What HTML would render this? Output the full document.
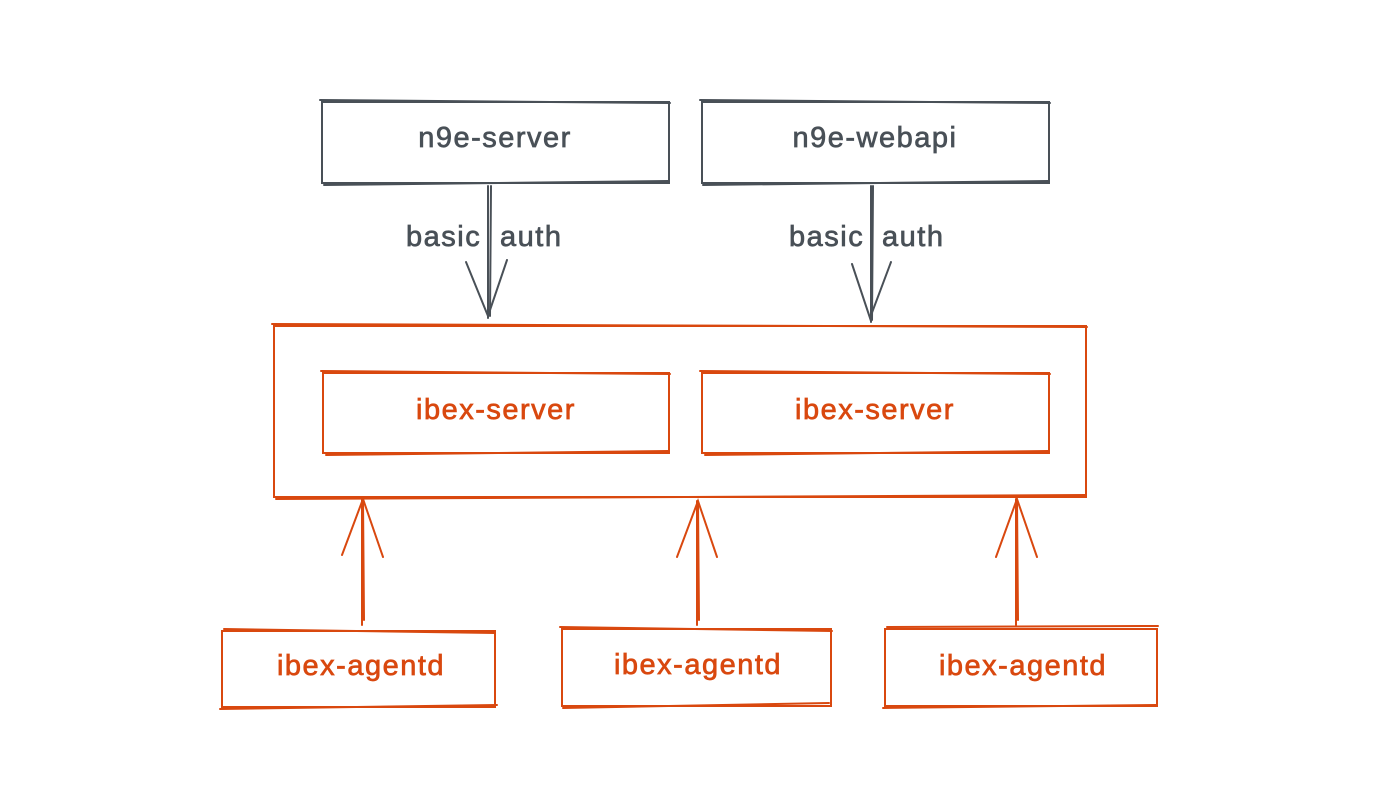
<!DOCTYPE html>
<html><head><meta charset="utf-8"><style>
html,body{margin:0;padding:0;background:#fff;width:1388px;height:804px;overflow:hidden}
svg{display:block}
text{font-family:"Liberation Sans",sans-serif;font-size:29px;letter-spacing:1.5px;dominant-baseline:central;stroke-width:0.7}
.c{text-anchor:middle}
</style></head><body>
<svg width="1388" height="804" viewBox="0 0 1388 804">
<g fill="none" stroke-width="2" stroke-linecap="round">
<g stroke="#495057">
<rect x="322" y="102" width="347" height="81"/>
<path d="M320 100 L670 103 M324 185 L668 181"/>
<rect x="702" y="102" width="347" height="81"/>
<path d="M700 100 L1050 103 M703 185 L1048 181"/>
<path d="M488 186 L488 318 M491 186 L490 316"/>
<path d="M466 262 L488 316 L507 260"/>
<path d="M871 186 L871 322 M873 186 L872 320"/>
<path d="M852 264 L870 318 L891 262"/>
</g>
<g stroke="#d9480f">
<rect x="274" y="326" width="812" height="171"/>
<path d="M272 324 L1087 327 M276 499 L1085 495"/>
<rect x="323" y="373" width="346" height="80"/>
<path d="M321 371 L670 374 M326 455 L668 451"/>
<rect x="702" y="373" width="347" height="80"/>
<path d="M700 371 L1050 374 M705 455 L1048 451"/>
<rect x="222" y="631" width="273" height="76"/>
<path d="M224 629 L495 633 M220 709 L497 705"/>
<rect x="562" y="629" width="269" height="77"/>
<path d="M560 627 L832 631 M563 708 L829 703"/>
<rect x="885" y="629" width="272" height="77"/>
<path d="M887 627 L1158 626 M883 708 L1156 705"/>
<path d="M362 625 L362 499 M364 620 L363 500"/>
<path d="M342 555 L363 499 L383 557"/>
<path d="M697 625 L697 501 M699 620 L698 502"/>
<path d="M677 557 L698 501 L717 557"/>
<path d="M1016 625 L1016 499 M1018 620 L1017 500"/>
<path d="M996 557 L1017 499 L1037 557"/>
</g>
</g>
<g fill="#495057" stroke="#495057">
<text class="c" x="495" y="138">n9e-server</text>
<text class="c" x="875" y="138">n9e-webapi</text>
<text x="406" y="237">basic</text>
<text x="500" y="237">auth</text>
<text x="789" y="237">basic</text>
<text x="882" y="237">auth</text>
</g>
<g fill="#d9480f" stroke="#d9480f">
<text class="c" x="496" y="410">ibex-server</text>
<text class="c" x="875" y="410">ibex-server</text>
<text class="c" x="361" y="666">ibex-agentd</text>
<text class="c" x="698" y="665">ibex-agentd</text>
<text class="c" x="1023" y="666">ibex-agentd</text>
</g>
</svg>
</body></html>
